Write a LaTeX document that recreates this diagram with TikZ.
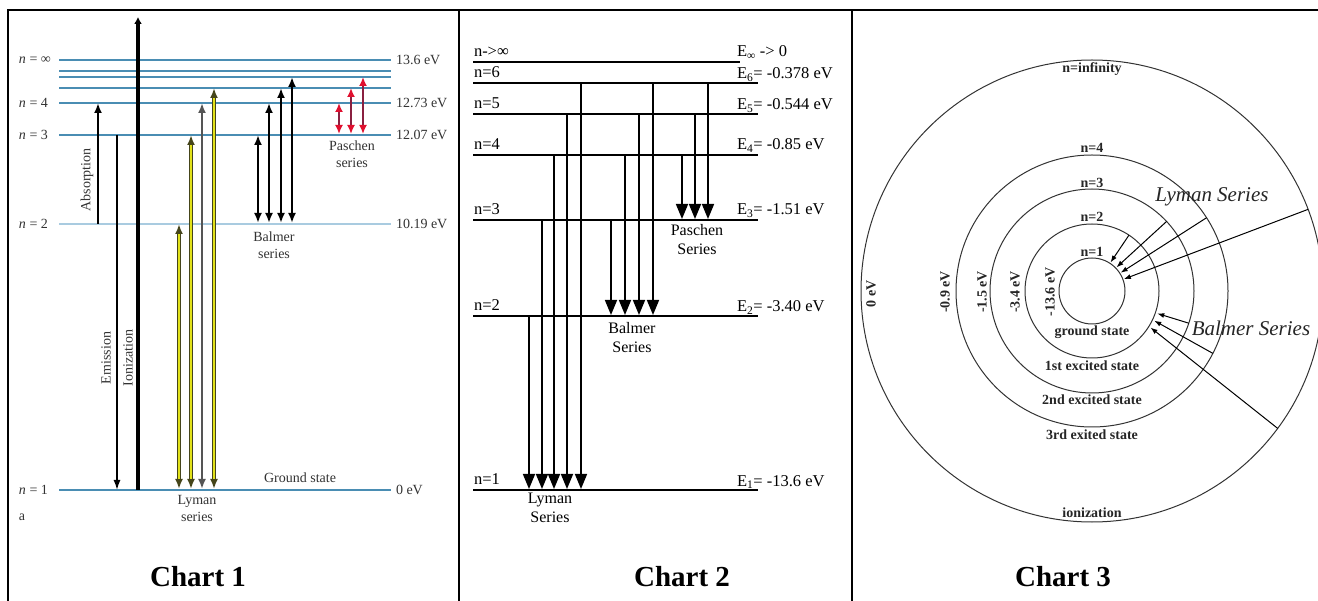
\documentclass[tikz,border=0pt]{standalone}
\usepackage{fontspec}
\setmainfont{Liberation Serif}
\usetikzlibrary{arrows.meta,calc}
\definecolor{lvl}{HTML}{4A8DB3}
\definecolor{lvllight}{HTML}{A9CBE0}
\definecolor{lymY}{HTML}{E2E21A}
\definecolor{lymD}{HTML}{45451A}
\definecolor{lymG}{HTML}{555555}
\definecolor{pasR}{HTML}{E0102F}
\definecolor{pasS}{HTML}{8A2040}
\definecolor{txtgray}{HTML}{333333}
\begin{document}
\begin{tikzpicture}[x=1pt,y=-1pt,
  every node/.style={inner sep=0pt, outer sep=0pt},
  lvlline/.style={draw=lvl, line width=1.4pt},
  lvllightline/.style={draw=lvllight, line width=2.6pt},
  cone/.style={font=\fontsize{14}{17}\selectfont, text=txtgray},
  coneb/.style={font=\fontsize{14}{17}\selectfont, text=txtgray, align=center},
  blkarrow/.style={line width=2.8pt, -{Latex[length=10pt,width=8pt]}},
  dblarrow/.style={line width=2.6pt, {Latex[length=10pt,width=8pt]}-{Latex[length=10pt,width=8pt]}},
  lymouter/.style={draw=lymD, line width=3.4pt, {Latex[length=10pt,width=8pt]}-{Latex[length=10pt,width=8pt]}},
  lyminner/.style={draw=lymY, line width=1.6pt, shorten <=10pt, shorten >=10pt},
  pasarrow/.style={draw=pasS, line width=2pt, {Latex[length=9pt,width=8pt,color=pasR]}-{Latex[length=9pt,width=8pt,color=pasR]}},
  ctwo/.style={font=\fontsize{16.5}{20}\selectfont},
  ctwoc/.style={font=\fontsize{16}{19}\selectfont, align=center},
  twoline/.style={line width=1.8pt},
  tri/.style={line width=1.6pt, -{Triangle[width=12pt,length=15pt]}},
  orbit/.style={draw=black!80, line width=1pt},
  cthree/.style={font=\bfseries\fontsize{14}{16}\selectfont, text=black!85},
  sername/.style={font=\itshape\fontsize{21}{24}\selectfont, text=black!85},
  thinarrow/.style={line width=1pt, -{Latex[length=7pt,width=5pt]}},
  title/.style={font=\bfseries\fontsize{29}{32}\selectfont}
]
\useasboundingbox (0,0) rectangle (1318,601);
\fill[white] (0,0) rectangle (1318,601);
% table frame (right and bottom edges fall outside the picture)
\draw[line width=2pt] (8,605) -- (8,10) -- (1325,10);
\draw[line width=2pt] (459,10) -- (459,605);
\draw[line width=2pt] (852,10) -- (852,605);

% ================= Chart 1 =================
\foreach \yy in {60,71,77,88,103,135,490} \draw[lvlline] (59,\yy) -- (391,\yy);
\draw[lvllightline] (59,224) -- (391,224);
\node[cone, anchor=west] (l1inf) at (19,60) {\textit{n} = ∞};
\node[cone, anchor=west] (l1four) at (19,103) {\textit{n} = 4};
\node[cone, anchor=west] (l1three) at (19,135) {\textit{n} = 3};
\node[cone, anchor=west] (l1two) at (19,224) {\textit{n} = 2};
\node[cone, anchor=west] (l1one) at (19,490) {\textit{n} = 1};
\node[cone, anchor=west] (l1a) at (19,517) {a};
\node[cone, anchor=west] (r1inf) at (396,60) {13.6 eV};
\node[cone, anchor=west] (r1four) at (396,103) {12.73 eV};
\node[cone, anchor=west] (r1three) at (396,135) {12.07 eV};
\node[cone, anchor=west] (r1two) at (396,224) {10.19 eV};
\node[cone, anchor=west] (r1one) at (396,490) {0 eV};
% ionization, absorption, emission
\coordinate (ionB) at (138,490); \coordinate (ionT) at (138,17);
\draw[line width=3.2pt, -{Latex[length=7pt,width=8pt]}] (ionB) -- (ionT);
\coordinate (absB) at (98,224); \coordinate (absT) at (98,103);
\draw[blkarrow] (absB) -- (absT);
\coordinate (emT) at (117,135); \coordinate (emB) at (117,490);
\draw[line width=1.6pt, -{Latex[length=10pt,width=7pt]}] (emT) -- (emB);
\node[cone, rotate=90] (absL) at (87,180) {Absorption};
\node[cone, rotate=90] (emL) at (106,358) {Emission};
\node[cone, rotate=90] (ionL) at (128,358) {Ionization};
% Lyman
\foreach \xx/\yy in {179/224,191/135,214/88}{
  \draw[lymouter] (\xx,489) -- (\xx,\yy);
  \draw[lyminner] (\xx,489) -- (\xx,\yy);
}
\draw[draw=lymG, line width=2.8pt, {Latex[length=10pt,width=8pt]}-{Latex[length=10pt,width=8pt]}] (202,489) -- (202,103);
\node[coneb] (lymL) at (197,508) {Lyman\\series};
\node[cone] (gsL) at (300,478) {Ground state};
% Balmer
\foreach \xx/\yy in {258/135,269/103,281/88,292/77}{
  \draw[dblarrow] (\xx,223) -- (\xx,\yy);
}
\node[coneb] (balL) at (274,245) {Balmer\\series};
% Paschen
\foreach \xx/\yy in {339/103,351/88,363/77}{
  \draw[pasarrow] (\xx,134) -- (\xx,\yy);
}
\node[coneb] (pasL) at (352,154) {Paschen\\series};
\node[title] (t1) at (198,577) {Chart 1};

% ================= Chart 2 =================
\draw[twoline] (473,62) -- (740,62);
\foreach \yy in {83,114,155,220,316,490} \draw[twoline] (473,\yy) -- (758,\yy);
\node[ctwo, anchor=base west] (n2inf) at (474,57) {n->∞};
\node[ctwo, anchor=base west] (n2six) at (474,78) {n=6};
\node[ctwo, anchor=base west] (n2five) at (474,109) {n=5};
\node[ctwo, anchor=base west] (n2four) at (474,150) {n=4};
\node[ctwo, anchor=base west] (n2three) at (474,215) {n=3};
\node[ctwo, anchor=base west] (n2two) at (474,311) {n=2};
\node[ctwo, anchor=base west] (n2one) at (474,485) {n=1};
\node[ctwo, anchor=base west] (e2inf) at (737,57) {E\textsubscript{∞} -> 0};
\node[ctwo, anchor=base west] (e2six) at (737,79) {E\textsubscript{6}= -0.378 eV};
\node[ctwo, anchor=base west] (e2five) at (737,110) {E\textsubscript{5}= -0.544 eV};
\node[ctwo, anchor=base west] (e2four) at (737,150) {E\textsubscript{4}= -0.85 eV};
\node[ctwo, anchor=base west] (e2three) at (737,215) {E\textsubscript{3}= -1.51 eV};
\node[ctwo, anchor=base west] (e2two) at (737,312) {E\textsubscript{2}= -3.40 eV};
\node[ctwo, anchor=base west] (e2one) at (737,486) {E\textsubscript{1}= -13.6 eV};
% Lyman
\foreach \xx/\yy in {529/316,542/220,554/155,567/114,581/83}{
  \draw[tri] (\xx,\yy) -- (\xx,489);
}
% Balmer
\foreach \xx/\yy in {611/220,625/155,639/114,653/83}{
  \draw[tri] (\xx,\yy) -- (\xx,315);
}
% Paschen
\foreach \xx/\yy in {682/155,695/114,708/83}{
  \draw[tri] (\xx,\yy) -- (\xx,219);
}
\node[ctwoc] (lym2) at (550,508) {Lyman\\Series};
\node[ctwoc] (bal2) at (632,338) {Balmer\\Series};
\node[ctwoc] (pas2) at (697,240) {Paschen\\Series};
\node[title] (t2) at (682,577) {Chart 2};

% ================= Chart 3 =================
\coordinate (C) at (1092,291);
\draw[orbit] (C) circle[radius=33pt];
\draw[orbit] (C) circle[radius=67pt];
\draw[orbit] (C) circle[radius=102pt];
\draw[orbit] (C) circle[radius=136pt];
\draw[orbit] (C) circle[radius=231pt];
\node[cthree] (ninf) at (1092,69) {n=infinity};
\node[cthree] (nfour) at (1092,148) {n=4};
\node[cthree] (nthree) at (1092,183) {n=3};
\node[cthree] (ntwo) at (1092,217) {n=2};
\node[cthree] (none) at (1092,252) {n=1};
\node[cthree, rotate=90] (e0) at (871,294) {0 eV};
\node[cthree, rotate=90] (e09) at (945,292) {-0.9 eV};
\node[cthree, rotate=90] (e15) at (982,292) {-1.5 eV};
\node[cthree, rotate=90] (e34) at (1015,292) {-3.4 eV};
\node[cthree, rotate=90] (e136) at (1050,292) {-13.6 eV};
\node[cthree] (gs) at (1092,332) {ground state};
\node[cthree] (s1) at (1092,366) {1st excited state};
\node[cthree] (s2) at (1092,400) {2nd excited state};
\node[cthree] (s3) at (1092,435) {3rd exited state};
\node[cthree] (ion) at (1092,513) {ionization};
\node[sername] (lym3) at (1212,197) {Lyman Series};
\node[sername] (bal3) at (1251,328) {Balmer Series};
% Lyman arrows
\coordinate (ly2s) at ($(C)+(56.5:67pt)$);  \coordinate (ly2e) at ($(C)+(57:34pt)$);
\coordinate (ly3s) at ($(C)+(43:102pt)$);   \coordinate (ly3e) at ($(C)+(44:34pt)$);
\coordinate (ly4s) at ($(C)+(32.6:136pt)$); \coordinate (ly4e) at ($(C)+(32.5:34pt)$);
\coordinate (ly5s) at ($(C)+(20.7:231pt)$); \coordinate (ly5e) at ($(C)+(20.5:34pt)$);
\draw[thinarrow] (ly2s) -- (ly2e);
\draw[thinarrow] (ly3s) -- (ly3e);
\draw[thinarrow] (ly4s) -- (ly4e);
\draw[thinarrow] (ly5s) -- (ly5e);
% Balmer arrows
\coordinate (ba3s) at ($(C)+(-18.4:102pt)$); \coordinate (ba3e) at ($(C)+(-19:69pt)$);
\coordinate (ba4s) at ($(C)+(-27.3:136pt)$); \coordinate (ba4e) at ($(C)+(-25.5:69pt)$);
\coordinate (ba5s) at ($(C)+(-36.5:231pt)$); \coordinate (ba5e) at ($(C)+(-32:69pt)$);
\draw[thinarrow] (ba3s) -- (ba3e);
\draw[thinarrow] (ba4s) -- (ba4e);
\draw[thinarrow] (ba5s) -- (ba5e);
\node[title] (t3) at (1063,577) {Chart 3};
\end{tikzpicture}
\end{document}
